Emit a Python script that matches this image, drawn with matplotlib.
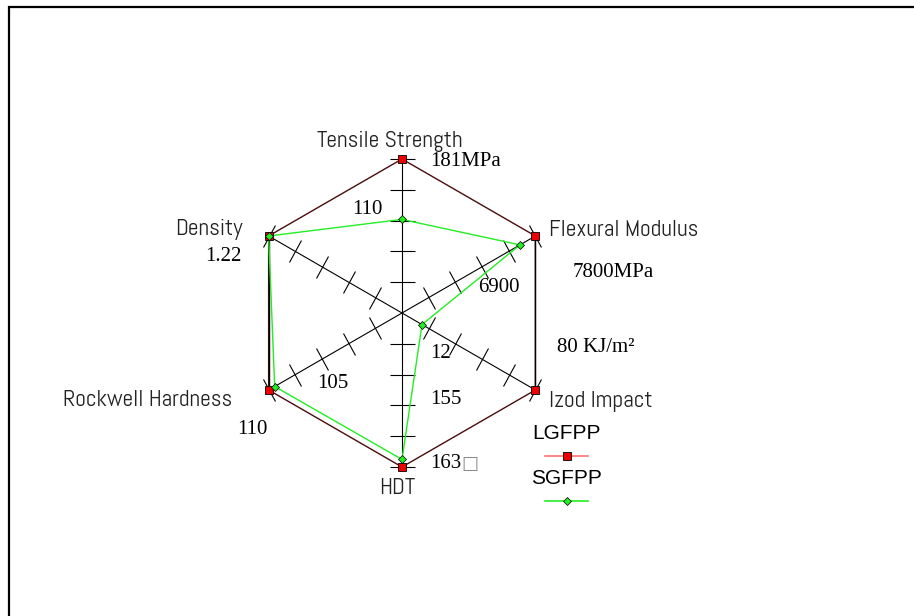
import numpy as np
import matplotlib
matplotlib.use("Agg")
import matplotlib.pyplot as plt
from matplotlib.markers import MarkerStyle
from matplotlib.transforms import Affine2D
from matplotlib.lines import Line2D

# ---------------- data ----------------
categories = ["Tensile Strength", "Flexural Modulus", "Izod Impact",
              "HDT", "Rockwell Hardness", "Density"]
lgfpp = [181, 7800, 80, 163, 110, 1.22]
sgfpp = [110, 6900, 12, 155, 105, 1.22]
axis_max = [181, 7800, 80, 163, 110, 1.22]
lgfpp_labels = ["181MPa", "7800MPa", "80 KJ/m²", "163", "110", "1.22"]
sgfpp_labels = ["110", "6900", "12", "155", "105", ""]
series_names = ["LGFPP", "SGFPP"]
n_ticks = 5

W, H = 914, 616
fig = plt.figure(figsize=(W / 100, H / 100), dpi=100)

def fx(x):
    return x / W

def fy(y):
    return 1 - y / H

# frame
frame = plt.Rectangle((fx(9), fy(H + 10)), 1.2, fy(7) - fy(H + 10),
                      transform=fig.transFigure, fill=False,
                      edgecolor="black", linewidth=1.6)
fig.patches.append(frame)

cx, cy, R = 402, 313, 154
ax = fig.add_axes([fx(cx - R), fy(cy + R), 2 * R / W, 2 * R / H],
                  projection="polar")
ax.set_theta_zero_location("N")
ax.set_theta_direction(-1)
ax.set_ylim(0, 1)
ax.axis("off")

n = len(categories)
theta = np.deg2rad(np.arange(n) * 360 / n)
r_l = np.array(lgfpp) / np.array(axis_max)
r_s = np.array(sgfpp) / np.array(axis_max)

# axes + ticks
tick_r = np.arange(1, n_ticks + 1) / n_ticks
for t in theta:
    ax.plot([t, t], [0, 1], color="black", lw=0.8, clip_on=False, zorder=2)
    ms = MarkerStyle("_", transform=Affine2D().rotate_deg(-np.rad2deg(t)))
    ax.plot([t] * n_ticks, tick_r, ls="none", marker=ms, ms=18, mew=0.8,
            color="black", clip_on=False, zorder=2)

# LGFPP polygon
tl = np.append(theta, theta[0])
rl = np.append(r_l, r_l[0])
ax.plot(tl, rl, color="#4a0c0c", lw=1.0, clip_on=False, zorder=3)
for a, b in [(1, 2), (4, 5)]:
    ax.plot([theta[a], theta[b]], [r_l[a], r_l[b]], color="black", lw=1.0,
            clip_on=False, zorder=3)

# SGFPP polygon
rs = np.append(r_s, r_s[0])
ax.plot(tl, rs, color="#22ee22", lw=1.0, clip_on=False, zorder=4)

ax.plot(theta, r_l, ls="none", marker="s", ms=6, mfc="#ee0000",
        mec="black", mew=0.6, clip_on=False, zorder=5)
ax.plot(theta, r_s, ls="none", marker="D", ms=4.2, mfc="#22ee22",
        mec="black", mew=0.5, clip_on=False, zorder=6)

# ---------------- texts ----------------
lab_font = dict(family=["Abel", "Liberation Sans"],
                fontsize=17, color="#222222")
num_font = dict(family=["Liberation Serif", "DejaVu Serif", "DejaVu Sans"],
                fontsize=15, color="black")

cat_pos = [(390, 141, "center"), (549, 231, "left"), (549, 401, "left"),
           (397, 489, "center"), (232, 401, "right"), (243, 230, "right")]
for name, (x, y, ha) in zip(categories, cat_pos):
    fig.text(fx(x), fy(y), name, ha=ha, va="center", **lab_font)

lg_pos = [(430, 162, "left"), (573, 273, "left"), (557, 347, "left"),
          (430, 464, "left"), (252, 430, "center"), (242, 257, "right")]
for s, (x, y, ha) in zip(lgfpp_labels, lg_pos):
    fig.text(fx(x), fy(y), s, ha=ha, va="center", **num_font)
# missing-glyph box after the HDT value, as in the reference
fig.text(fx(461), fy(464), "□", ha="left", va="center",
         family="DejaVu Sans", fontsize=13, color="#888888")

sg_pos = [(367, 210, "center"), (478, 288, "left"), (430, 353, "left"),
          (430, 399, "left"), (333, 383, "center"), (0, 0, "left")]
for s, (x, y, ha) in zip(sgfpp_labels, sg_pos):
    if s:
        fig.text(fx(x), fy(y), s, ha=ha, va="center", **num_font)

# ---------------- legend ----------------
h_l = Line2D([], [], color="#ff7070", lw=1.2, marker="s", ms=6, mfc="#ee0000",
             mec="black", mew=0.6)
h_s = Line2D([], [], color="#22ee22", lw=1.2, marker="D", ms=4, mfc="#22ee22",
             mec="black", mew=0.5)
for h, name, yc in [(h_l, series_names[0], 446), (h_s, series_names[1], 491)]:
    leg = fig.legend(handles=[h], labels=[""], title=name,
                     loc="center", bbox_to_anchor=(fx(566.5), fy(yc)),
                     frameon=False, handlelength=2.1, handletextpad=0,
                     borderpad=0, labelspacing=0.2, prop=dict(size=15),
                     title_fontproperties=dict(family="Liberation Sans", size=15))
    leg._legend_box.sep = 3

fig.savefig("out.png", dpi=100)
